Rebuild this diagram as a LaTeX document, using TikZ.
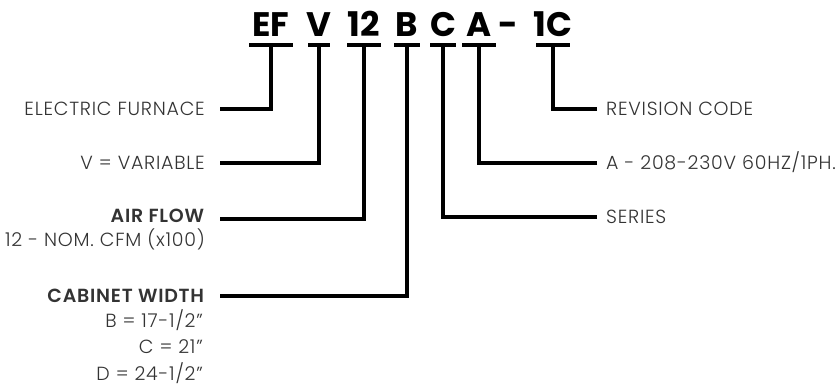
\documentclass[tikz,border=0pt]{standalone}
\usepackage{fontspec}
\setmainfont{Poppins}[UprightFont=* Light, BoldFont=* SemiBold, LetterSpace=4]
\newfontfamily\codefont{Poppins}[UprightFont=* Bold]
\usepackage{xcolor}
\usetikzlibrary{positioning, calc}
\definecolor{labelgray}{HTML}{333333}

\begin{document}
\begin{tikzpicture}[
    x=1pt, y=-1pt,
    code/.style={inner sep=0pt, anchor=base, font=\codefont\fontsize{34}{34}\selectfont},
    lbl/.style={inner sep=0pt, font=\fontsize{19}{22}\selectfont, text=labelgray},
    lblL/.style={lbl, anchor=base east},
    lblR/.style={lbl, anchor=base west},
    bar/.style={line width=4pt},
    lead/.style={line width=4pt, line join=miter}
  ]
    \useasboundingbox (0,0) rectangle (836,389);

    % model code
    \node[code] (cEF) at (271,36) {EF};
    \node[code] (cV)  at (319,36) {V};
    \node[code] (c12) at (364,36) {12};
    \node[code] (cB)  at (407,36) {B};
    \node[code] (cC)  at (443,36) {C};
    \node[code] (cA)  at (479,36) {A};
    \node[code] (cdash) at (508,36) {-};
    \node[code] (c1C) at (553,36) {1C};

    % bars under each field
    \coordinate (bEF) at ($(cEF.base)+(0,9)$);
    \coordinate (bV)  at ($(cV.base)+(0,9)$);
    \coordinate (b12) at ($(c12.base)+(0,9)$);
    \coordinate (bB)  at ($(cB.base)+(0,9)$);
    \coordinate (bC)  at ($(cC.base)+(0,9)$);
    \coordinate (bA)  at ($(cA.base)+(0,9)$);
    \coordinate (b1C) at ($(c1C.base)+(0,9)$);
    \draw[bar] ($(bEF)+(-22,0)$) -- ($(bEF)+(22,0)$);
    \draw[bar] ($(bV)+(-11,0)$) -- ($(bV)+(11,0)$);
    \draw[bar] ($(b12)+(-17,0)$) -- ($(b12)+(17,0)$);
    \draw[bar] ($(bB)+(-13,0)$) -- ($(bB)+(13,0)$);
    \draw[bar] ($(bC)+(-13,0)$) -- ($(bC)+(13,0)$);
    \draw[bar] ($(bA)+(-17,0)$) -- ($(bA)+(17,0)$);
    \draw[bar] ($(b1C)+(-17,0)$) -- ($(b1C)+(17,0)$);

    % left labels
    \node[lblL] (lEF) at (205,115.5) {ELECTRIC FURNACE};
    \node[lblL] (lV)  at (205,169.5) {V = VARIABLE};
    \node[lblL] (l12) at (205,222.5) {\textbf{AIR FLOW}};
    \node[lblL] (l12a) at (205,246.5) {12 - NOM. CFM (x100)};
    \node[lblL] (lB)  at (205,302.5) {\textbf{CABINET WIDTH}};
    \node[lblL] (lB1) at (203,327.5) {B = 17-1/2''};
    \node[lblL] (lB2) at (203,353.5) {C = 21''};
    \node[lblL] (lB3) at (203,380) {D = 24-1/2''};

    % right labels
    \node[lblR] (l1C) at (606,115.5) {REVISION CODE};
    \node[lblR] (lA)  at (606,169.5) {A - 208-230V 60HZ/1PH.};
    \node[lblR] (lC)  at (606,223.5) {SERIES};

    % leaders
    \draw[lead] ([xshift=15pt]lEF.east |- 0,109) -| (bEF);
    \draw[lead] ([xshift=15pt]lV.east |- 0,163) -| (bV);
    \draw[lead] ([xshift=15pt]l12.east |- 0,219) -| (b12);
    \draw[lead] ([xshift=15pt]lB.east |- 0,296) -| (bB);
    \draw[lead] ([xshift=-9pt]l1C.west |- 0,109) -| (b1C);
    \draw[lead] ([xshift=-9pt]lA.west |- 0,163) -| (bA);
    \draw[lead] ([xshift=-9pt]lC.west |- 0,217) -| (bC);
  \end{tikzpicture}
\end{document}
